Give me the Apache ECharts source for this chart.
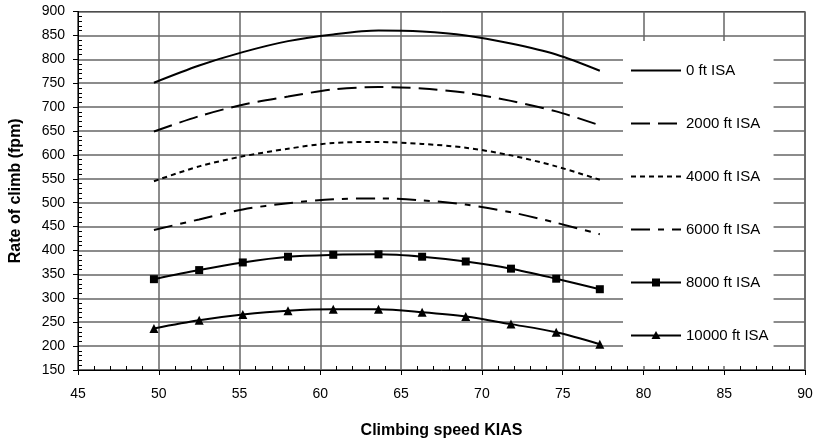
<!DOCTYPE html>
<html>
<head>
<meta charset="utf-8">
<title>Rate of climb vs climbing speed</title>
<script src="https://cdn.jsdelivr.net/npm/echarts@6/dist/echarts.min.js"></script>
<style>
  html, body { margin: 0; padding: 0; background: #fff; }
  #chart { width: 816px; height: 444px; }
</style>
</head>
<body>
<div id="chart"></div>
<script>
// Climbing speed (KIAS) at which each rate of climb was taken
const speedsKias = [49.7, 52.5, 55.2, 58.0, 60.8, 63.6, 66.3, 69.0, 71.8, 74.6, 77.3];

// Rate of climb (fpm) per pressure altitude, ISA conditions
const roc0ft     = [751, 787, 815, 838, 852, 860, 858, 850, 833, 810, 776];
const roc2000ft  = [649, 681, 705, 722, 737, 742, 739, 730, 713, 691, 662];
const roc4000ft  = [545, 576, 597, 613, 625, 627, 623, 615, 599, 576, 548];
const roc6000ft  = [443, 465, 486, 499, 507, 509, 505, 496, 480, 458, 434];
const roc8000ft  = [340, 359, 375, 387, 391, 392, 387, 377, 362, 341, 319];
const roc10000ft = [237, 254, 266, 274, 277, 277, 271, 262, 246, 229, 204];

const seriesNames = ['0 ft ISA', '2000 ft ISA', '4000 ft ISA', '6000 ft ISA', '8000 ft ISA', '10000 ft ISA'];

// Axis ranges and tick steps
const speedAxis = { min: 45, max: 90, step: 5 };
const rocAxis = { min: 150, max: 900, step: 50 };

const FONT = "'Liberation Sans', Arial, sans-serif";

// Legend keys drawn as filled paths in a 50 x 10 box (tiny corner dots pin the box size)
const KEY_BOX = 'M0,0h0.01v0.01h-0.01z M49.99,9.99h0.01v0.01h-0.01z ';
const KEY_SOLID = 'M0,4h50v2h-50z ';
const legendKeys = [
  KEY_BOX + KEY_SOLID,
  KEY_BOX + 'M0,4h19v2h-19z M27,4h19v2h-19z',
  KEY_BOX + 'M0,4h5v2h-5z M9,4h5v2h-5z M18,4h5v2h-5z M27,4h5v2h-5z M36,4h5v2h-5z M45,4h5v2h-5z',
  KEY_BOX + 'M0,4h19v2h-19z M27,4h6v2h-6z M41,4h9v2h-9z',
  KEY_BOX + KEY_SOLID + 'M21,1h8v8h-8z',
  KEY_BOX + KEY_SOLID + 'M25,0.5L29.5,8.5L20.5,8.5z'
];

function pairs(values) {
  return speedsKias.map((x, i) => [x, values[i]]);
}

const lineSeries = [
  { values: roc0ft,     dash: 'solid',       symbol: 'none' },
  { values: roc2000ft,  dash: [19, 8],       symbol: 'none' },
  { values: roc4000ft,  dash: [5, 4],        symbol: 'none' },
  { values: roc6000ft,  dash: [19, 8, 6, 8], symbol: 'none' },
  { values: roc8000ft,  dash: 'solid',       symbol: 'rect',     size: 8 },
  { values: roc10000ft, dash: 'solid',       symbol: 'triangle', size: 9 }
].map((s, i) => ({
  name: seriesNames[i],
  type: 'line',
  data: pairs(s.values),
  smooth: 0.3,
  symbol: s.symbol,
  symbolSize: s.size || 0,
  showSymbol: s.symbol !== 'none',
  itemStyle: { color: '#000' },
  lineStyle: { color: '#000', width: 2, type: s.dash },
  emphasis: { disabled: true },
  animation: false
}));

const chart = echarts.init(document.getElementById('chart'), null, { renderer: 'canvas' });

chart.setOption({
  backgroundColor: '#fff',
  animation: false,
  grid: {
    left: 77, right: 11, top: 11.5, bottom: 73,
    show: true, borderColor: '#000', borderWidth: 1, backgroundColor: 'transparent'
  },
  legend: {
    orient: 'vertical',
    left: 623,
    top: 41,
    padding: [22, 5, 23, 8],
    itemWidth: 50,
    itemHeight: 10,
    itemGap: 38,
    backgroundColor: '#fff',
    selectedMode: false,
    itemStyle: { color: '#000' },
    textStyle: { fontFamily: FONT, fontSize: 15, color: '#000' },
    data: seriesNames.map((name, i) => ({ name: name, icon: 'path://' + legendKeys[i] }))
  },
  xAxis: {
    type: 'value',
    min: speedAxis.min,
    max: speedAxis.max,
    interval: speedAxis.step,
    name: 'Climbing speed KIAS',
    nameLocation: 'middle',
    nameGap: 53,
    nameTextStyle: { fontFamily: FONT, fontSize: 16, fontWeight: 'bold', color: '#000' },
    axisLine: { show: true, onZero: false, lineStyle: { color: '#000', width: 1 } },
    axisTick: { show: true, length: 5, lineStyle: { color: '#000' } },
    minorTick: { show: true, splitNumber: 5, length: -4, lineStyle: { color: '#000' } },
    axisLabel: { fontFamily: FONT, fontSize: 14, color: '#000', margin: 17 },
    splitLine: { show: true, lineStyle: { color: '#666', width: 1.5 } }
  },
  yAxis: {
    type: 'value',
    min: rocAxis.min,
    max: rocAxis.max,
    interval: rocAxis.step,
    name: 'Rate of climb (fpm)',
    nameLocation: 'middle',
    nameGap: 54,
    nameTextStyle: { fontFamily: FONT, fontSize: 16, fontWeight: 'bold', color: '#000' },
    axisLine: { show: true, onZero: false, lineStyle: { color: '#000', width: 1 } },
    axisTick: { show: true, length: 5, lineStyle: { color: '#000' } },
    minorTick: { show: true, splitNumber: 5, length: -4, lineStyle: { color: '#000' } },
    axisLabel: { fontFamily: FONT, fontSize: 14, color: '#000', margin: 13 },
    splitLine: { show: true, lineStyle: { color: '#666', width: 1.5 } }
  },
  series: lineSeries
});
</script>
</body>
</html>
